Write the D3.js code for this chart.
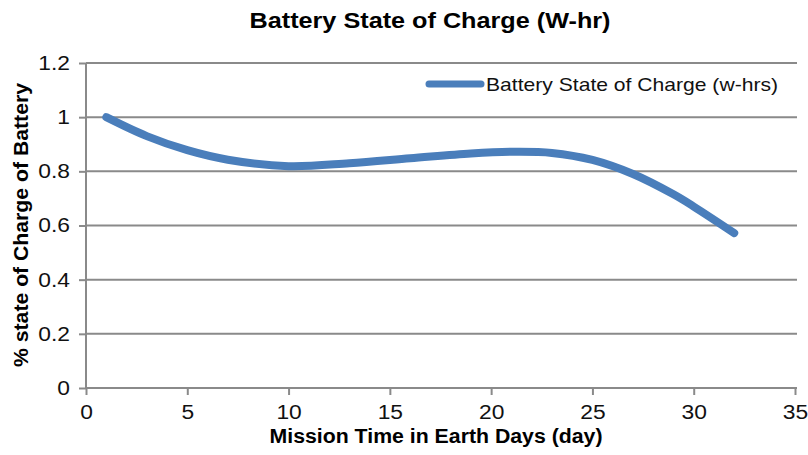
<!DOCTYPE html>
<html>
<head>
<meta charset="utf-8">
<script src="https://cdn.jsdelivr.net/npm/d3@7"></script>
<style>
  body { margin: 0; background: #fff; }
  svg { display: block; font-family: "Liberation Sans", Arial, sans-serif; }
</style>
</head>
<body>
<svg id="chart" width="808" height="455"></svg>
<script>
// Battery state of charge over the mission
const days = [1, 3, 5, 7, 10, 13, 16, 19, 21, 23, 25, 27, 29, 30, 32];
const charge = [1.0, 0.93, 0.878, 0.843, 0.819, 0.83, 0.848, 0.866, 0.872, 0.868, 0.842, 0.79, 0.715, 0.67, 0.572];
const xTicks = [0, 5, 10, 15, 20, 25, 30, 35];
const yTicks = [0, 0.2, 0.4, 0.6, 0.8, 1, 1.2];
const seriesName = "Battery State of Charge (w-hrs)";

const svg = d3.select("#chart");
const plotLeft = 86, plotRight = 795, plotTop = 63, plotBottom = 388;
const widen = 1.14; // horizontal widening applied to the tick labels

const x = d3.scaleLinear().domain([0, 35]).range([plotLeft, plotRight]);
const y = d3.scaleLinear().domain([0, 1.2]).range([plotBottom, plotTop]);

const gridColor = "#8a8a8a";
const lineColor = "#4a7ebb";

// horizontal gridlines
svg.append("g").selectAll("line").data(yTicks.filter(d => d > 0)).join("line")
  .attr("x1", plotLeft).attr("x2", plotRight + 2)
  .attr("y1", d => y(d)).attr("y2", d => y(d))
  .attr("stroke", gridColor).attr("stroke-width", 2);

// axes
const yAxis = svg.append("g").attr("transform", `translate(${plotLeft},0)`)
  .call(d3.axisLeft(y).tickValues(yTicks).tickSize(7).tickPadding(9)
    .tickFormat(d => d3.format("~g")(d)));
const xAxis = svg.append("g").attr("transform", `translate(0,${plotBottom})`)
  .call(d3.axisBottom(x).tickValues(xTicks).tickSize(7).tickPadding(10));

[yAxis, xAxis].forEach(g => {
  g.select(".domain").attr("stroke", gridColor).attr("stroke-width", 2);
  g.selectAll(".tick line").attr("stroke", gridColor).attr("stroke-width", 2);
  g.selectAll(".tick text").attr("fill", "#111")
    .style("font-size", "20px").style("font-family", "'Liberation Sans', Arial, sans-serif")
    .each(function () {
      const w = this.getComputedTextLength();
      d3.select(this).attr("textLength", w * widen).attr("lengthAdjust", "spacingAndGlyphs");
    });
});
yAxis.select(".domain").attr("d", `M0,${plotBottom}V${plotTop}`);
xAxis.select(".domain").attr("d", `M${plotLeft},0H${plotRight + 2}`);

// series line
const line = d3.line().x((d, i) => x(days[i])).y(d => y(d)).curve(d3.curveCatmullRom.alpha(0.5));
svg.append("path").datum(charge)
  .attr("d", line)
  .attr("fill", "none").attr("stroke", lineColor)
  .attr("stroke-width", 8).attr("stroke-linecap", "round").attr("stroke-linejoin", "round");

// title
svg.append("text").attr("x", 430).attr("y", 28).attr("text-anchor", "middle")
  .attr("textLength", 361).attr("lengthAdjust", "spacingAndGlyphs")
  .style("font-size", "22px").style("font-weight", "bold").attr("fill", "#000")
  .text("Battery State of Charge (W-hr)");

// axis titles
svg.append("text").attr("x", 436).attr("y", 443).attr("text-anchor", "middle")
  .attr("textLength", 333).attr("lengthAdjust", "spacingAndGlyphs")
  .style("font-size", "20px").style("font-weight", "bold").attr("fill", "#000")
  .text("Mission Time in Earth Days (day)");
svg.append("text").attr("transform", "translate(28,225) rotate(-90)").attr("text-anchor", "middle")
  .attr("textLength", 284).attr("lengthAdjust", "spacingAndGlyphs")
  .style("font-size", "20px").style("font-weight", "bold").attr("fill", "#000")
  .text("% state of Charge of Battery");

// legend
const lg = svg.append("g");
lg.append("line").attr("x1", 429).attr("x2", 481).attr("y1", 84).attr("y2", 84)
  .attr("stroke", lineColor).attr("stroke-width", 7).attr("stroke-linecap", "round");
lg.append("text").attr("x", 486).attr("y", 91)
  .attr("textLength", 292).attr("lengthAdjust", "spacingAndGlyphs")
  .style("font-size", "19px").attr("fill", "#111").text(seriesName);
</script>
</body>
</html>
